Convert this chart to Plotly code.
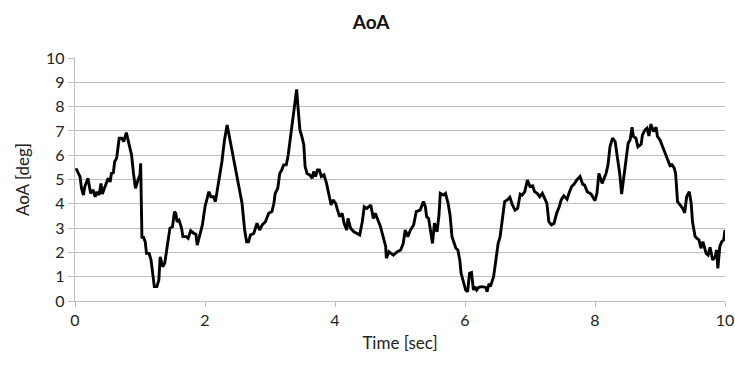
import plotly.graph_objects as go

# Angle of attack time history (sec, deg)
time_sec = [
    0.015, 0.04, 0.077, 0.10, 0.13, 0.15, 0.20, 0.24, 0.28, 0.31, 0.34, 0.37, 0.40, 0.42,
    0.48, 0.51, 0.54, 0.56, 0.59, 0.61, 0.64, 0.68, 0.72, 0.75, 0.79, 0.82, 0.87, 0.90,
    0.93, 0.97, 1.00, 1.01, 1.03, 1.05, 1.08, 1.10, 1.14, 1.17, 1.20, 1.22, 1.26, 1.29,
    1.31, 1.35, 1.38, 1.41, 1.46, 1.50, 1.53, 1.55, 1.57, 1.60, 1.64, 1.66, 1.71, 1.74,
    1.78, 1.83, 1.86, 1.88, 1.93, 1.96, 2.00, 2.04, 2.06, 2.09, 2.13, 2.16, 2.18, 2.22,
    2.26, 2.30, 2.34, 2.37, 2.41, 2.46, 2.50, 2.54, 2.57, 2.61, 2.64, 2.67, 2.70, 2.75,
    2.80, 2.84, 2.88, 2.93, 2.98, 3.03, 3.06, 3.08, 3.12, 3.15, 3.18, 3.21, 3.25, 3.28,
    3.31, 3.34, 3.37, 3.41, 3.43, 3.46, 3.49, 3.52, 3.54, 3.57, 3.61, 3.65, 3.67, 3.70,
    3.73, 3.76, 3.79, 3.83, 3.87, 3.90, 3.94, 3.97, 4.01, 4.04, 4.07, 4.11, 4.14, 4.18,
    4.20, 4.24, 4.29, 4.34, 4.38, 4.42, 4.45, 4.49, 4.55, 4.59, 4.62, 4.66, 4.70, 4.74,
    4.78, 4.79, 4.83, 4.86, 4.90, 4.96, 5.01, 5.05, 5.08, 5.12, 5.16, 5.21, 5.25, 5.31,
    5.36, 5.39, 5.41, 5.44, 5.50, 5.53, 5.57, 5.60, 5.62, 5.67, 5.70, 5.74, 5.77, 5.80,
    5.86, 5.89, 5.92, 5.94, 5.97, 6.01, 6.04, 6.07, 6.10, 6.13, 6.15, 6.18, 6.21, 6.26,
    6.32, 6.34, 6.37, 6.39, 6.44, 6.47, 6.51, 6.54, 6.57, 6.61, 6.65, 6.69, 6.73, 6.77,
    6.81, 6.85, 6.88, 6.92, 6.96, 7.00, 7.04, 7.07, 7.11, 7.15, 7.19, 7.23, 7.26, 7.29,
    7.33, 7.37, 7.41, 7.45, 7.48, 7.52, 7.57, 7.60, 7.64, 7.68, 7.72, 7.77, 7.81, 7.84,
    7.88, 7.94, 8.00, 8.03, 8.06, 8.11, 8.17, 8.20, 8.23, 8.27, 8.31, 8.35, 8.38, 8.41,
    8.44, 8.47, 8.51, 8.54, 8.57, 8.59, 8.63, 8.66, 8.71, 8.73, 8.77, 8.80, 8.83, 8.86,
    8.90, 8.94, 8.96, 9.00, 9.04, 9.08, 9.12, 9.16, 9.18, 9.22, 9.24, 9.27, 9.31, 9.35,
    9.38, 9.41, 9.45, 9.48, 9.50, 9.54, 9.57, 9.60, 9.63, 9.66, 9.71, 9.74, 9.77, 9.81,
    9.85, 9.87, 9.89, 9.92, 9.95, 9.98, 10.00,
]
aoa_deg = [
    5.46, 5.32, 5.12, 4.64, 4.36, 4.70, 5.05, 4.43, 4.57, 4.29, 4.50, 4.36, 4.84, 4.40,
    4.84, 5.05, 4.90, 5.25, 5.28, 5.73, 5.87, 6.70, 6.70, 6.56, 6.93, 6.60, 6.01, 5.25,
    4.64, 4.98, 5.19, 5.67, 2.58, 2.65, 2.44, 1.96, 1.96, 1.69, 1.14, 0.59, 0.59, 0.86,
    1.82, 1.41, 1.55, 2.17, 2.99, 3.06, 3.68, 3.61, 3.26, 3.33, 2.99, 2.65, 2.65, 2.58,
    2.89, 2.78, 2.75, 2.30, 2.85, 3.13, 3.88, 4.29, 4.50, 4.29, 4.29, 4.09, 4.43, 4.98,
    5.73, 6.63, 7.24, 6.83, 6.28, 5.67, 4.98, 4.43, 4.02, 2.92, 2.44, 2.44, 2.72, 2.78,
    3.20, 2.92, 3.13, 3.26, 3.61, 3.68, 4.02, 4.43, 4.64, 5.25, 5.39, 5.60, 5.60, 6.01,
    6.63, 7.31, 8.00, 8.71, 8.00, 7.04, 6.77, 6.42, 5.53, 5.25, 5.19, 5.05, 5.33, 5.12,
    5.39, 5.39, 5.12, 5.19, 4.84, 4.43, 3.95, 4.16, 4.02, 3.74, 3.47, 3.61, 3.20, 2.92,
    3.40, 2.99, 2.85, 2.78, 2.72, 3.26, 3.88, 3.81, 3.95, 3.40, 3.61, 3.33, 3.06, 2.65,
    2.24, 1.76, 2.03, 1.96, 1.89, 2.03, 2.10, 2.37, 2.92, 2.65, 2.92, 3.13, 3.68, 3.74,
    4.09, 3.88, 3.47, 3.40, 2.37, 3.20, 2.85, 3.54, 4.43, 4.36, 4.43, 4.02, 3.54, 2.65,
    2.17, 2.10, 1.69, 1.14, 0.86, 0.45, 0.38, 1.14, 1.17, 0.45, 0.59, 0.45, 0.56, 0.59,
    0.56, 0.38, 0.72, 0.59, 1.00, 1.69, 2.37, 2.65, 3.33, 4.09, 4.16, 4.27, 3.95, 3.74,
    3.81, 4.40, 4.36, 4.50, 4.98, 4.71, 4.74, 4.50, 4.43, 4.29, 4.43, 4.22, 4.02, 3.26,
    3.13, 3.20, 3.61, 3.88, 4.16, 4.33, 4.19, 4.43, 4.71, 4.81, 4.98, 5.12, 4.81, 4.77,
    4.50, 4.40, 4.13, 4.43, 5.25, 4.84, 5.25, 5.60, 6.34, 6.70, 6.56, 5.80, 5.25, 4.40,
    5.05, 5.67, 6.49, 6.63, 7.15, 6.77, 6.70, 6.34, 6.45, 6.83, 7.04, 7.11, 6.79, 7.28,
    6.97, 7.15, 6.77, 6.63, 6.34, 6.01, 5.80, 5.53, 5.64, 5.46, 5.25, 4.09, 3.95, 3.81,
    3.63, 4.29, 4.50, 4.02, 3.26, 2.65, 2.58, 2.51, 2.17, 2.44, 1.96, 1.89, 2.21, 1.69,
    1.82, 2.10, 1.34, 2.24, 2.44, 2.51, 2.92,
]

x_ticks = [0, 2, 4, 6, 8, 10]
y_ticks = list(range(0, 11))

FONT = "Lato, 'Open Sans', sans-serif"
GRID = "#bdbdbd"

fig = go.Figure(
    go.Scatter(
        x=time_sec,
        y=aoa_deg,
        mode="lines",
        line=dict(color="black", width=2.9),
        showlegend=False,
        hoverinfo="x+y",
    )
)

fig.update_layout(
    width=735,
    height=367,
    margin=dict(l=75, r=10, t=58, b=66),
    paper_bgcolor="white",
    plot_bgcolor="white",
    font=dict(family=FONT, color="#222", size=16),
    title=dict(
        text="<b>AoA</b>",
        x=0.505,
        xanchor="center",
        y=1 - 22 / 367,
        yanchor="middle",
        font=dict(family=FONT, size=19, color="#111"),
    ),
)

fig.update_xaxes(
    range=[0, 10],
    tickvals=x_ticks,
    ticks="outside",
    ticklen=5,
    tickcolor=GRID,
    showline=True,
    linecolor=GRID,
    linewidth=1.3,
    showgrid=False,
    zeroline=False,
    automargin=False,
    tickfont=dict(size=16),
    title=dict(text="Time [sec]", font=dict(size=17), standoff=8),
)

fig.update_yaxes(
    range=[0, 10],
    tickvals=y_ticks,
    ticks="outside",
    ticklen=6,
    tickcolor=GRID,
    showline=True,
    linecolor=GRID,
    linewidth=1.3,
    showgrid=True,
    gridcolor=GRID,
    gridwidth=1.3,
    zeroline=False,
    automargin=False,
    tickfont=dict(size=16),
    title=dict(text="AoA [deg]", font=dict(size=17), standoff=12),
)

fig.write_html("out.html")
